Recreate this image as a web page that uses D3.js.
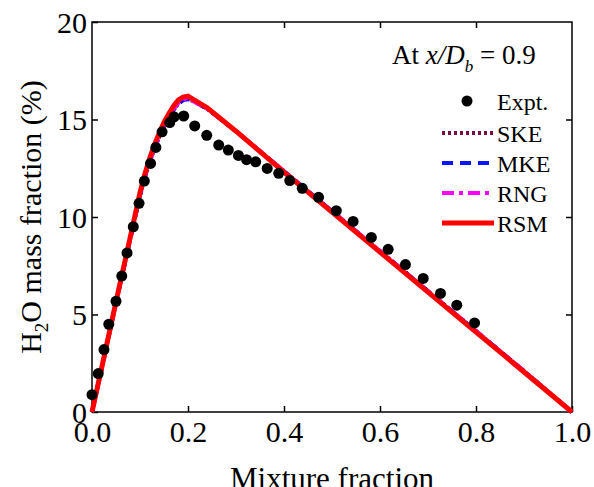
<!DOCTYPE html>
<html>
<head>
<meta charset="utf-8">
<script src="https://cdn.jsdelivr.net/npm/d3@7/dist/d3.min.js"></script>
<style>
  body { margin: 0; background: white; }
  svg text { font-family: "Liberation Serif", "Times New Roman", serif; fill: black; }
</style>
</head>
<body>
<svg id="chart" width="594" height="487"></svg>
<script>
  // experiment
  const exptX = [0.0, 0.013, 0.025, 0.035, 0.050, 0.062, 0.073, 0.086, 0.098, 0.109, 0.122, 0.133, 0.146,
    0.162, 0.171, 0.191, 0.214, 0.239, 0.264, 0.284, 0.305, 0.322, 0.341, 0.365, 0.389, 0.412, 0.438,
    0.472, 0.509, 0.544, 0.582, 0.617, 0.653, 0.690, 0.726, 0.760, 0.797];
  const exptY = [0.89, 1.97, 3.20, 4.50, 5.68, 6.97, 8.16, 9.50, 10.70, 11.84, 12.75, 13.57, 14.37,
    14.84, 15.14, 15.18, 14.67, 14.19, 13.69, 13.43, 13.16, 12.94, 12.83, 12.49, 12.24, 11.87, 11.47,
    11.01, 10.32, 9.77, 8.95, 8.34, 7.56, 6.85, 6.08, 5.48, 4.57];

  // model predictions
  const mixFrac = [0, 0.02, 0.05, 0.08, 0.10, 0.11, 0.12, 0.13, 0.14, 0.15, 0.16, 0.17, 0.18, 0.19, 0.20,
    0.21, 0.24, 0.30, 0.40, 0.50, 0.60, 0.70, 0.80, 0.90, 1.0];
  const ske = [0, 2.2, 5.6, 8.9, 11.1, 12.0, 12.8, 13.5, 14.1, 14.65, 15.1, 15.5, 15.8, 16.0, 16.05,
    15.95, 15.55, 14.4, 12.35, 10.3, 8.25, 6.2, 4.15, 2.1, 0];
  const mke = [0, 2.2, 5.6, 8.9, 11.1, 12.0, 12.8, 13.5, 14.1, 14.65, 15.1, 15.5, 15.8, 16.0, 16.05,
    15.95, 15.55, 14.4, 12.35, 10.3, 8.25, 6.2, 4.15, 2.1, 0];
  const rng = [0, 2.2, 5.6, 8.95, 11.15, 12.05, 12.85, 13.55, 14.15, 14.7, 15.15, 15.55, 15.85, 16.05, 16.1,
    15.95, 15.55, 14.4, 12.35, 10.3, 8.25, 6.2, 4.15, 2.1, 0];
  const rsm = [0, 2.25, 5.65, 9.0, 11.25, 12.2, 13.0, 13.7, 14.3, 14.85, 15.3, 15.7, 16.0, 16.15, 16.2,
    16.05, 15.6, 14.4, 12.3, 10.25, 8.2, 6.15, 4.1, 2.05, 0];

  const xTicks = [0, 0.2, 0.4, 0.6, 0.8, 1.0];
  const yTicks = [0, 5, 10, 15, 20];

  const series = [
    { name: "SKE", values: ske, color: "#7a0a45", dash: "3,3", width: 4 },
    { name: "MKE", values: mke, color: "#0a14ff", dash: "11,7", width: 4 },
    { name: "RNG", values: rng, color: "#ff00ff", dash: "12,5,4,5", width: 4 },
    { name: "RSM", values: rsm, color: "#ff0000", dash: null, width: 5 }
  ];

  const svg = d3.select("#chart");
  const margin = { top: 22, right: 22, bottom: 75, left: 92 };
  const width = +svg.attr("width") - margin.left - margin.right;
  const height = +svg.attr("height") - margin.top - margin.bottom;

  const g = svg.append("g")
    .attr("transform", `translate(${margin.left},${margin.top})`);

  const x = d3.scaleLinear().domain([0, 1]).range([0, width]);
  const y = d3.scaleLinear().domain([0, 20]).range([height, 0]);

  // axes with inward ticks
  const tick = 6;
  const bottom = g.append("g")
    .attr("transform", `translate(0,${height})`)
    .call(d3.axisBottom(x).tickValues(xTicks).tickFormat(d3.format(".1f")).tickSizeInner(-tick).tickSizeOuter(0));
  bottom.selectAll("text").attr("y", 30).attr("dy", 0).style("font-size", "30px");

  const left = g.append("g")
    .call(d3.axisLeft(y).tickValues(yTicks).tickFormat(d3.format("d")).tickSizeInner(-tick).tickSizeOuter(0));
  left.selectAll("text").attr("x", -5).attr("dy", "0.34em").style("font-size", "30px");

  g.append("g")
    .call(d3.axisTop(x).tickValues(xTicks.slice(1, -1)).tickFormat("").tickSizeInner(-tick).tickSizeOuter(0));
  g.append("g")
    .attr("transform", `translate(${width},0)`)
    .call(d3.axisRight(y).tickValues(yTicks.slice(1, -1)).tickFormat("").tickSizeInner(-tick).tickSizeOuter(0));

  g.selectAll(".domain").remove();
  g.selectAll(".tick line").attr("stroke", "black").attr("stroke-width", 1.5);

  g.append("rect")
    .attr("width", width)
    .attr("height", height)
    .attr("fill", "none")
    .attr("stroke", "black")
    .attr("stroke-width", 1.5);

  // model lines
  const line = d3.line()
    .x((d, i) => x(mixFrac[i]))
    .y(d => y(d));

  g.selectAll(".model")
    .data(series)
    .enter().append("path")
      .attr("class", "model")
      .attr("d", d => line(d.values))
      .attr("fill", "none")
      .attr("stroke", d => d.color)
      .attr("stroke-width", d => d.width)
      .attr("stroke-dasharray", d => d.dash);

  // experimental points
  g.selectAll(".expt")
    .data(exptX)
    .enter().append("circle")
      .attr("class", "expt")
      .attr("cx", d => x(d))
      .attr("cy", (d, i) => y(exptY[i]))
      .attr("r", 5.5)
      .attr("fill", "black");

  // annotation
  const note = svg.append("text")
    .attr("x", 392)
    .attr("y", 64)
    .style("font-size", "27px");
  note.append("tspan").text("At ");
  note.append("tspan").style("font-style", "italic").text("x/D");
  note.append("tspan").style("font-style", "italic").style("font-size", "17px").attr("dy", 8).text("b");
  note.append("tspan").attr("dy", -8).text(" = 0.9");

  // legend
  const legend = svg.append("g").attr("transform", "translate(442,101)");
  legend.append("circle").attr("cx", 25).attr("cy", 0).attr("r", 5.5).attr("fill", "black");
  legend.append("text").attr("x", 55).attr("y", 9).style("font-size", "24px").text("Expt.");

  const rows = legend.selectAll(".row")
    .data(series)
    .enter().append("g")
      .attr("class", "row")
      .attr("transform", (d, i) => `translate(0,${32 + i * 30})`);
  rows.append("line")
    .attr("x1", 0).attr("x2", 52)
    .attr("stroke", d => d.color)
    .attr("stroke-width", d => d.width)
    .attr("stroke-dasharray", d => d.dash);
  rows.append("text")
    .attr("x", 55).attr("y", 9)
    .style("font-size", "24px")
    .text(d => d.name);

  // axis titles (the x title runs off the bottom edge as in the original)
  svg.append("text")
    .attr("x", margin.left + width / 2)
    .attr("y", 489)
    .attr("text-anchor", "middle")
    .style("font-size", "31px")
    .text("Mixture fraction");

  const ytitle = svg.append("text")
    .attr("transform", `translate(41,${margin.top + height / 2}) rotate(-90)`)
    .attr("text-anchor", "middle")
    .style("font-size", "30px");
  ytitle.append("tspan").text("H");
  ytitle.append("tspan").style("font-size", "19px").attr("dy", 7).text("2");
  ytitle.append("tspan").attr("dy", -7).text("O mass fraction (%)");
</script>
</body>
</html>
